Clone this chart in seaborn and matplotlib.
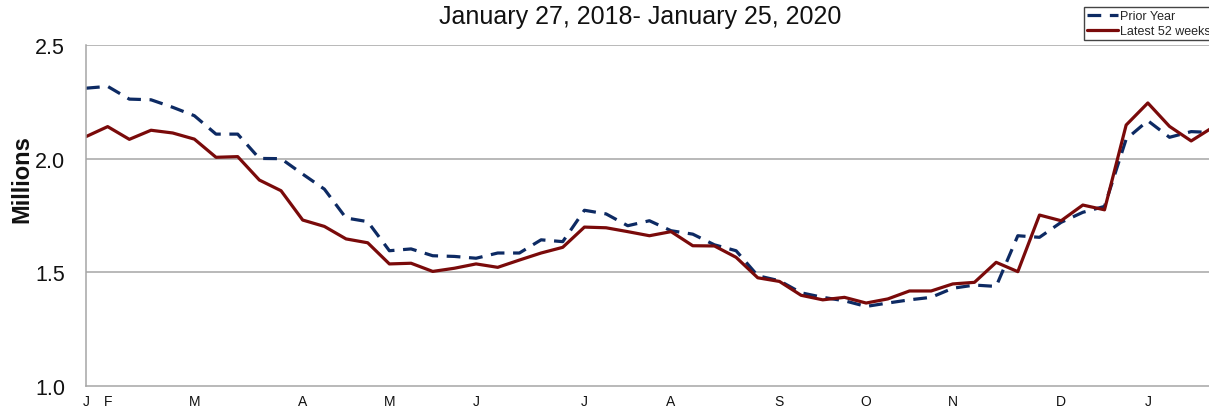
import numpy as np
import pandas as pd
import matplotlib
matplotlib.use("Agg")
import matplotlib.pyplot as plt
import seaborn as sns

# ---------------- data ----------------
title_text = "January 27, 2018- January 25, 2020"
y_label = "Millions"
series_names = ["Prior Year", "Latest 52 weeks"]

weeks = list(range(53))

prior_year = [2.310, 2.318, 2.262, 2.259, 2.226, 2.189, 2.108, 2.108, 2.001, 2.000,
              1.932, 1.866, 1.739, 1.723, 1.595, 1.603, 1.573, 1.570, 1.562, 1.585,
              1.585, 1.643, 1.635, 1.773, 1.757, 1.705, 1.727, 1.683, 1.668, 1.621,
              1.595, 1.485, 1.463, 1.410, 1.390, 1.375, 1.350, 1.365, 1.379, 1.390,
              1.430, 1.444, 1.438, 1.661, 1.654, 1.720, 1.764, 1.790, 2.086, 2.167,
              2.094, 2.119, 2.115]

latest_52 = [2.097, 2.141, 2.085, 2.125, 2.113, 2.086, 2.006, 2.009, 1.906, 1.859,
             1.730, 1.702, 1.647, 1.630, 1.537, 1.540, 1.504, 1.518, 1.537, 1.522,
             1.554, 1.585, 1.610, 1.699, 1.696, 1.679, 1.661, 1.679, 1.617, 1.616,
             1.566, 1.476, 1.460, 1.399, 1.379, 1.390, 1.365, 1.383, 1.418, 1.418,
             1.449, 1.456, 1.544, 1.503, 1.752, 1.727, 1.796, 1.775, 2.148, 2.245,
             2.142, 2.078, 2.138]

month_weeks = [0, 1, 5, 10, 14, 18, 23, 27, 32, 36, 40, 45, 49]
month_labels = ["J", "F", "M", "A", "M", "J", "J", "A", "S", "O", "N", "D", "J"]

y_ticks = [1.0, 1.5, 2.0, 2.5]
y_tick_labels = ["1.0", "1.5", "2.0", "2.5"]

# ---------------- style ----------------
sns.set_style("white")
plt.rcParams["font.family"] = ["Liberation Sans", "DejaVu Sans"]

W, H = 1209, 410
fig = plt.figure(figsize=(W / 100, H / 100), dpi=100)
left_px, top_px, bottom_px = 86, 46, 387
ax = fig.add_axes([left_px / W, 1 - bottom_px / H, 1 - left_px / W, (bottom_px - top_px) / H])

df = pd.DataFrame({
    "week": weeks * 2,
    "value": prior_year + latest_52,
    "series": [series_names[0]] * len(weeks) + [series_names[1]] * len(weeks),
})

palette = {"Prior Year": "#0d2a63", "Latest 52 weeks": "#7a0a0a"}

sns.lineplot(data=df[df.series == "Prior Year"], x="week", y="value",
             color=palette["Prior Year"], linewidth=2.3, ax=ax,
             label="Prior Year")
sns.lineplot(data=df[df.series == "Latest 52 weeks"], x="week", y="value",
             color=palette["Latest 52 weeks"], linewidth=2.3, ax=ax,
             label="Latest 52 weeks")
ax.lines[0].set_dashes((4.3, 2.7))

grid_color = "#a6a6a6"
ax.set_ylim(1.0, 2.5)
ax.set_xlim(0, (W - left_px) / 21.67)
ax.set_yticks(y_ticks)
ax.set_yticklabels(y_tick_labels, fontsize=15.5, color="#111111")
tick_pos = list(range(0, 52))
tick_lab = [month_labels[month_weeks.index(w)] if w in month_weeks else "" for w in tick_pos]
ax.set_xticks(tick_pos)
ax.set_xticklabels(tick_lab, fontsize=10, color="#111111")
ax.tick_params(axis="x", direction="out", length=5, width=1, color=grid_color, pad=1)
ax.tick_params(axis="y", direction="out", length=6, width=1, color=grid_color, pad=9)

for y in [1.5, 2.0, 2.5]:
    ax.axhline(y, color=grid_color, linewidth=1.1, zorder=0)

for s in ["top", "right"]:
    ax.spines[s].set_visible(False)
for s in ["left", "bottom"]:
    ax.spines[s].set_color(grid_color)
    ax.spines[s].set_linewidth(1.1)

ax.set_xlabel("")
ax.set_ylabel(y_label, fontsize=17, fontweight="bold", color="#111111")
ax.yaxis.set_label_coords((33 - left_px) / (W - left_px), (bottom_px - 179) / (bottom_px - top_px))

fig.text(640 / W, 1 - 17 / H, title_text, ha="center", va="center", fontsize=18, color="#111111")

leg = ax.legend(loc="upper left", bbox_to_anchor=(1084 / W, 1 - 8 / H), bbox_transform=fig.transFigure,
                fontsize=9, handlelength=2.5, handletextpad=0.15, borderpad=0.25, labelspacing=0.25,
                borderaxespad=0, frameon=True, fancybox=False, edgecolor="#444444", framealpha=1)
leg.get_frame().set_linewidth(1.0)

fig.savefig("out.png", dpi=100)
